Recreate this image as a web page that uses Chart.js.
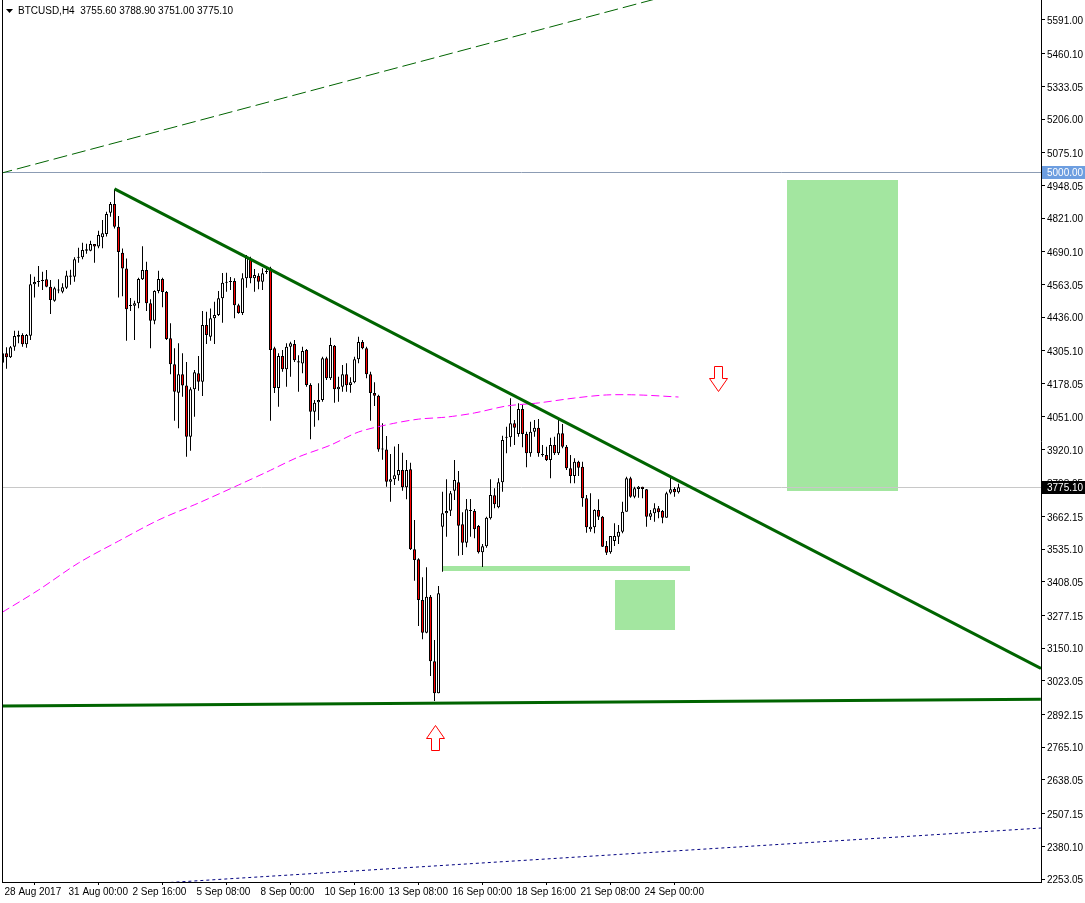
<!DOCTYPE html>
<html>
<head>
<meta charset="utf-8">
<title>BTCUSD,H4</title>
<script src="https://cdn.jsdelivr.net/npm/chart.js@4.4.1/dist/chart.umd.min.js"></script>
<style>
  html, body { margin: 0; padding: 0; background: #fff; }
  #wrap { width: 1085px; height: 903px; }
</style>
</head>
<body>
<div id="wrap"><canvas id="chart" width="1085" height="903"></canvas></div>
<script>
const symbolTitle = 'BTCUSD,H4  3755.60 3788.90 3751.00 3775.10';

// H4 candles, bar 0 = 28 Aug 2017 08:00
const opens = [
  4259.3, 4295.8, 4280.4, 4321.5, 4360.3, 4366.8, 4330.9, 4364.1, 4563.9, 4572.8,
  4576.6, 4583.3, 4554.5, 4500.2, 4541.8, 4535.2, 4550.5, 4593.4, 4593.4, 4667.3,
  4668.8, 4694.5, 4694.5, 4720.1, 4710.7, 4746.5, 4759.5, 4842.2, 4875.9, 4787.4,
  4687.0, 4625.0, 4481.5, 4480.8, 4490.1, 4583.3, 4619.4, 4490.1, 4422.5, 4537.8,
  4584.5, 4533.8, 4354.0, 4253.1, 4142.7, 4214.2, 4170.3, 3971.6, 4155.9, 4218.1,
  4185.2, 4405.7, 4360.3, 4431.8, 4444.5, 4509.5, 4570.1, 4572.8, 4576.6, 4482.2,
  4452.1, 4587.1, 4662.2, 4587.1, 4597.3, 4574.0, 4611.7, 4625.9, 4315.2, 4161.1,
  4285.4, 4233.6, 4321.5, 4331.9, 4265.2, 4256.2, 4308.6, 4172.5, 4068.8, 4105.4,
  4114.3, 4276.5, 4198.6, 4325.3, 4155.9, 4165.9, 4214.2, 4172.5, 4183.0, 4272.5,
  4339.3, 4315.2, 4214.2, 4141.7, 4131.2, 3925.8, 3921.9, 3796.9, 3806.3, 3821.8,
  3842.3, 3775.0, 3844.9, 3534.1, 3495.4, 3337.1, 3210.0, 3350.0, 3099.2, 2974.5,
  3621.9, 3674.0, 3684.1, 3761.8, 3794.5, 3631.3, 3559.8, 3686.8, 3683.0, 3624.7,
  3522.5, 3545.9, 3654.6, 3743.9, 3697.3, 3794.5, 3969.4, 3969.4, 4024.1, 3982.2,
  4079.3, 3982.2, 3907.2, 3991.1, 4007.0, 3904.5, 3900.6, 3881.1, 3939.4, 3907.2,
  3984.9, 3932.8, 3848.9, 3819.0, 3874.5, 3855.1, 3732.3, 3611.8, 3619.6, 3686.8,
  3660.8, 3547.0, 3522.5, 3566.4, 3583.1, 3602.5, 3680.2, 3810.0, 3738.5, 3768.4,
  3777.3, 3767.3, 3660.8, 3674.0, 3693.4, 3683.0, 3656.9, 3754.1, 3768.4, 3755.6
];
const highs = [
  4325.3, 4318.9, 4324.1, 4383.6, 4383.6, 4373.3, 4370.7, 4602.8, 4593.4, 4635.0,
  4612.9, 4619.4, 4580.5, 4554.5, 4583.3, 4567.8, 4616.3, 4620.2, 4668.8, 4706.1,
  4725.6, 4721.2, 4732.9, 4720.1, 4772.2, 4813.8, 4846.0, 4883.7, 4933.1, 4829.4,
  4702.6, 4664.0, 4510.7, 4500.2, 4589.5, 4711.5, 4651.5, 4505.6, 4540.4, 4616.3,
  4589.5, 4537.7, 4412.3, 4315.2, 4335.3, 4295.8, 4262.4, 4163.6, 4230.9, 4285.4,
  4460.2, 4457.5, 4470.2, 4496.3, 4537.7, 4607.5, 4609.3, 4592.2, 4587.1, 4488.7,
  4606.7, 4677.8, 4671.2, 4623.2, 4606.7, 4625.9, 4625.9, 4632.2, 4321.5, 4295.8,
  4308.6, 4335.3, 4341.0, 4347.5, 4288.5, 4321.5, 4312.4, 4179.1, 4114.3, 4179.1,
  4282.7, 4282.7, 4355.8, 4328.0, 4204.8, 4250.3, 4256.9, 4202.9, 4282.7, 4360.3,
  4347.5, 4321.5, 4224.3, 4183.0, 4135.1, 4023.9, 3974.4, 3904.5, 3933.2, 3943.7,
  3909.5, 3881.2, 3870.6, 3648.0, 3499.3, 3425.3, 3464.2, 3356.6, 3181.7, 3391.5,
  3758.0, 3806.1, 3760.7, 3881.1, 3838.4, 3677.9, 3729.6, 3729.6, 3690.7, 3628.6,
  3554.7, 3660.8, 3806.1, 3771.2, 3809.9, 3975.6, 4010.5, 4120.9, 4036.6, 4101.5,
  4094.9, 3991.1, 4030.0, 4036.6, 4040.5, 3939.4, 3932.8, 3967.8, 3971.7, 4043.2,
  4021.0, 3939.4, 3900.6, 3887.7, 3878.4, 3874.5, 3745.1, 3751.7, 3689.6, 3728.4,
  3663.5, 3566.4, 3585.8, 3635.2, 3628.6, 3719.1, 3816.2, 3816.2, 3777.3, 3780.1,
  3777.3, 3768.4, 3686.8, 3712.9, 3702.4, 3686.8, 3758.0, 3813.9, 3776.7, 3788.9
];
const lows = [
  4228.2, 4235.9, 4277.7, 4305.7, 4335.3, 4321.5, 4317.6, 4347.5, 4512.6, 4554.5,
  4541.8, 4552.1, 4448.5, 4496.3, 4529.5, 4529.5, 4545.7, 4562.1, 4573.9, 4648.0,
  4661.1, 4682.2, 4692.2, 4648.0, 4704.5, 4704.5, 4749.3, 4826.4, 4781.2, 4512.6,
  4517.7, 4344.8, 4460.2, 4347.5, 4470.6, 4580.5, 4460.2, 4315.2, 4408.6, 4529.5,
  4474.5, 4347.5, 4214.2, 4033.9, 4004.2, 4127.1, 3894.0, 3917.3, 4049.5, 4150.5,
  4129.8, 4331.9, 4344.8, 4331.9, 4440.6, 4414.6, 4535.2, 4541.8, 4431.8, 4449.7,
  4444.5, 4550.5, 4567.8, 4535.2, 4544.5, 4541.8, 4603.9, 4033.9, 4141.7, 4088.3,
  4224.3, 4165.9, 4204.8, 4262.4, 4146.6, 4218.1, 4165.9, 3961.6, 4010.2, 4036.1,
  4107.7, 4192.0, 4192.0, 4103.8, 4107.7, 4146.6, 4146.6, 4142.7, 4179.1, 4256.9,
  4311.5, 4198.6, 4033.9, 4091.0, 3913.4, 3882.5, 3777.5, 3719.1, 3783.6, 3800.4,
  3761.8, 3728.4, 3531.4, 3412.2, 3236.1, 3184.4, 3207.7, 3041.9, 2944.6, 2974.5,
  3447.1, 3583.1, 3663.5, 3725.7, 3509.3, 3512.0, 3541.9, 3583.1, 3576.9, 3517.8,
  3465.1, 3540.2, 3649.9, 3693.4, 3693.4, 3758.0, 3907.2, 3932.8, 3939.4, 3971.7,
  3930.5, 3852.8, 3894.0, 3971.7, 3894.0, 3894.0, 3877.3, 3810.0, 3900.6, 3900.6,
  3926.6, 3842.3, 3790.6, 3790.6, 3819.0, 3699.7, 3598.6, 3602.5, 3596.7, 3648.0,
  3543.1, 3512.0, 3517.0, 3547.0, 3554.7, 3596.7, 3680.2, 3734.6, 3732.3, 3734.6,
  3732.3, 3621.9, 3648.0, 3641.4, 3654.6, 3635.2, 3656.9, 3747.8, 3738.5, 3751.0
];
const closes = [
  4295.8, 4280.4, 4318.9, 4363.0, 4366.8, 4330.9, 4366.8, 4563.9, 4572.8, 4576.6,
  4580.5, 4554.5, 4502.9, 4548.3, 4539.9, 4552.1, 4598.5, 4598.5, 4661.1, 4671.2,
  4697.2, 4699.9, 4720.1, 4710.7, 4755.5, 4762.1, 4837.1, 4875.9, 4787.4, 4689.3,
  4625.0, 4466.8, 4479.6, 4490.1, 4584.5, 4619.4, 4490.1, 4422.5, 4537.8, 4584.5,
  4533.8, 4351.3, 4253.1, 4146.6, 4214.2, 4170.3, 3971.6, 4155.9, 4221.9, 4185.2,
  4405.7, 4366.8, 4431.8, 4444.5, 4509.5, 4570.1, 4571.7, 4574.8, 4482.2, 4452.1,
  4587.1, 4667.3, 4587.1, 4600.1, 4574.0, 4606.7, 4613.6, 4308.6, 4161.1, 4285.4,
  4233.6, 4321.5, 4335.3, 4269.1, 4260.1, 4305.2, 4172.5, 4068.8, 4103.8, 4114.3,
  4276.5, 4198.6, 4328.0, 4155.9, 4165.9, 4214.2, 4171.6, 4183.0, 4272.5, 4339.3,
  4315.2, 4214.2, 4141.7, 4131.2, 3921.9, 3921.9, 3796.9, 3806.3, 3821.8, 3842.3,
  3775.0, 3842.3, 3534.1, 3492.6, 3337.1, 3210.0, 3350.0, 3099.2, 2974.5, 3363.1,
  3674.0, 3683.0, 3751.7, 3803.4, 3625.8, 3559.8, 3689.6, 3683.0, 3611.8, 3522.5,
  3545.9, 3656.9, 3745.1, 3709.0, 3794.5, 3958.9, 3967.5, 4024.1, 4007.0, 4079.3,
  3982.2, 3907.2, 3991.1, 4007.0, 3907.2, 3900.6, 3881.1, 3939.4, 3907.2, 3984.9,
  3932.8, 3848.9, 3819.0, 3874.5, 3851.2, 3732.3, 3619.6, 3621.9, 3686.8, 3660.8,
  3544.3, 3521.0, 3585.8, 3585.8, 3602.5, 3680.2, 3810.0, 3738.5, 3771.2, 3777.3,
  3768.4, 3660.8, 3674.0, 3693.4, 3677.9, 3656.9, 3751.7, 3767.3, 3755.5, 3775.1
];

// moving average (magenta), read at selected bars
const maBars = [0, 9, 19, 29, 39, 49, 59, 66, 74, 82, 89, 97, 104, 111, 118, 126, 134, 143, 151, 159, 169];
const maVals = [3290, 3376, 3481, 3566, 3648, 3714, 3784, 3834, 3893, 3939, 3990, 4021, 4040, 4048, 4064, 4091, 4103, 4122, 4134, 4134, 4126];

// drawn objects: [bar, price]
const trendDown = [[28, 4935], [259.6, 3071]];
const supportLine = [[-1, 2925], [259.6, 2952]];
const channelTop = [[-1, 4993], [166, 5684]];
const channelBottom = [[30, 2228], [259.6, 2451]];
const levelLine = 5000.00;
const bidPrice = 3775.10;

// rectangles: [barFrom, barTo, priceTop, priceBottom]
const targetBox = [196.1, 223.9, 4969, 3761];
const smallBox = [153.1, 168.1, 3415, 3220];
const baseBar = [110.1, 171.9, 3469, 3450];

// arrows: [bar, price of top edge]
const arrowDown = [178.9, 4246];
const arrowUp = [108.1, 2851];

const priceTicks = [5591.00, 5460.10, 5333.05, 5206.00, 5075.10, 4948.05, 4821.00, 4690.10, 4563.05,
  4436.00, 4305.10, 4178.05, 4051.00, 3920.10, 3793.05, 3662.15, 3535.10, 3408.05, 3277.15,
  3150.10, 3023.05, 2892.15, 2765.10, 2638.05, 2507.15, 2380.10, 2253.05];
const dateTickBars = [0, 16, 32, 48, 64, 80, 96, 112, 128, 144, 160];
const dateTickText = ['28 Aug 2017', '31 Aug 00:00', '2 Sep 16:00', '5 Sep 08:00', '8 Sep 00:00',
  '10 Sep 16:00', '13 Sep 08:00', '16 Sep 00:00', '18 Sep 16:00', '21 Sep 08:00', '24 Sep 00:00'];

const FONT = { family: '"Liberation Sans", Arial, sans-serif', size: 10 };
const GREEN_BOX = '#a3e6a0';
const toXY = pts => pts.map(p => ({ x: p[0], y: p[1] }));

const bars = opens.map((o, i) => i);
const wickData = bars.map(i => ({ x: i, y: [lows[i], highs[i]] }));
const bodyData = bars.map(i => ({ x: i, y: [opens[i], closes[i]] }));
const bodyColors = bars.map(i => (closes[i] >= opens[i] ? '#ffffff' : '#ff0000'));

const mtPlugin = {
  id: 'mtObjects',
  beforeDatasetsDraw(chart) {
    const { ctx, chartArea: a, scales: { x, y } } = chart;
    ctx.save();
    ctx.beginPath();
    ctx.rect(a.left, a.top, a.right - a.left, a.bottom - a.top);
    ctx.clip();
    ctx.fillStyle = GREEN_BOX;
    [targetBox, smallBox, baseBar].forEach(b => {
      const x1 = Math.round(x.getPixelForValue(b[0]));
      const x2 = Math.round(x.getPixelForValue(b[1]));
      const y1 = Math.round(y.getPixelForValue(b[2]));
      const y2 = Math.round(y.getPixelForValue(b[3]));
      ctx.fillRect(x1, y1, x2 - x1, y2 - y1);
    });
    ctx.lineWidth = 1;
    const ly = Math.round(y.getPixelForValue(levelLine)) + 0.5;
    ctx.strokeStyle = '#8c9cb4';
    ctx.beginPath(); ctx.moveTo(a.left, ly); ctx.lineTo(a.right, ly); ctx.stroke();
    const by = Math.round(y.getPixelForValue(bidPrice)) + 0.5;
    ctx.strokeStyle = '#c8c8c8';
    ctx.beginPath(); ctx.moveTo(a.left, by); ctx.lineTo(a.right, by); ctx.stroke();
    ctx.restore();
  },
  afterDatasetsDraw(chart) {
    const { ctx, scales: { x, y } } = chart;
    ctx.save();
    ctx.strokeStyle = '#ff0000';
    ctx.fillStyle = '#ffffff';
    ctx.lineWidth = 1;
    // down arrow
    let cx = Math.round(x.getPixelForValue(arrowDown[0])) + 0.5;
    let ty = Math.round(y.getPixelForValue(arrowDown[1])) + 0.5;
    ctx.beginPath();
    ctx.moveTo(cx - 4, ty); ctx.lineTo(cx + 4, ty); ctx.lineTo(cx + 4, ty + 12);
    ctx.lineTo(cx + 9, ty + 12); ctx.lineTo(cx, ty + 25); ctx.lineTo(cx - 9, ty + 12);
    ctx.lineTo(cx - 4, ty + 12); ctx.closePath();
    ctx.fill(); ctx.stroke();
    // up arrow
    cx = Math.round(x.getPixelForValue(arrowUp[0])) + 0.5;
    ty = Math.round(y.getPixelForValue(arrowUp[1])) + 0.5;
    ctx.beginPath();
    ctx.moveTo(cx, ty); ctx.lineTo(cx + 9, ty + 13); ctx.lineTo(cx + 4, ty + 13);
    ctx.lineTo(cx + 4, ty + 25); ctx.lineTo(cx - 4, ty + 25); ctx.lineTo(cx - 4, ty + 13);
    ctx.lineTo(cx - 9, ty + 13); ctx.closePath();
    ctx.fill(); ctx.stroke();
    ctx.restore();
  },
  afterDraw(chart) {
    const { ctx, chartArea: a, scales: { y } } = chart;
    ctx.save();
    // frame on the left
    ctx.strokeStyle = '#000';
    ctx.lineWidth = 1;
    ctx.beginPath(); ctx.moveTo(a.left + 0.5, a.top); ctx.lineTo(a.left + 0.5, a.bottom); ctx.stroke();
    // title
    ctx.fillStyle = '#000';
    ctx.beginPath(); ctx.moveTo(6, 9); ctx.lineTo(13, 9); ctx.lineTo(9.5, 13); ctx.closePath(); ctx.fill();
    ctx.font = `${FONT.size}px ${FONT.family}`;
    ctx.textBaseline = 'middle';
    ctx.textAlign = 'left';
    ctx.fillText(symbolTitle, 18, 11);
    // price tags on the axis
    const tag = (val, bg) => {
      const py = Math.round(y.getPixelForValue(val));
      ctx.fillStyle = bg;
      ctx.fillRect(y.left + 1, py - 6, 43, 13);
      ctx.fillStyle = '#ffffff';
      ctx.fillText(val.toFixed(2), y.left + 6, py + 1);
    };
    tag(levelLine, '#6d9ee0');
    tag(bidPrice, '#000000');
    ctx.restore();
  }
};

new Chart(document.getElementById('chart'), {
  type: 'bar',
  data: {
    datasets: [
      { type: 'line', data: toXY(trendDown), borderColor: '#006400', borderWidth: 3, pointRadius: 0, order: 0 },
      { type: 'line', data: toXY(supportLine), borderColor: '#006400', borderWidth: 3, pointRadius: 0, order: 0 },
      { type: 'line', data: toXY(channelTop), borderColor: '#006400', borderWidth: 1, borderDash: [14, 5], pointRadius: 0, order: 0 },
      { type: 'line', data: toXY(channelBottom), borderColor: '#000080', borderWidth: 1, borderDash: [3, 3], pointRadius: 0, order: 0 },
      { type: 'line', data: maBars.map((b, i) => ({ x: b, y: maVals[i] })), borderColor: '#ff00ff', borderWidth: 1,
        borderDash: [8, 4], pointRadius: 0, tension: 0.3, order: 0 },
      { type: 'bar', data: bodyData, backgroundColor: bodyColors, borderColor: '#000', borderWidth: 1,
        borderSkipped: false, barThickness: 3, minBarLength: 1, grouped: false, inflateAmount: 0, order: 1 },
      { type: 'bar', data: wickData, backgroundColor: '#000', borderWidth: 0,
        barThickness: 1, grouped: false, inflateAmount: 0, order: 2 }
    ]
  },
  options: {
    responsive: false,
    animation: false,
    events: [],
    layout: { padding: { left: 2, top: 0, right: 0, bottom: 0 } },
    plugins: { legend: { display: false }, tooltip: { enabled: false } },
    scales: {
      x: {
        type: 'linear',
        min: -0.125,
        max: 259.625,
        offset: false,
        grid: { drawOnChartArea: false, drawTicks: true, tickLength: 3, color: '#000' },
        border: { display: true, color: '#000' },
        ticks: {
          autoSkip: false, maxRotation: 0, align: 'start', padding: 1, labelOffset: 2, color: '#000', font: FONT,
          callback: v => dateTickText[dateTickBars.indexOf(v)]
        },
        afterBuildTicks: s => { s.ticks = dateTickBars.map(v => ({ value: v })); },
        afterFit: s => { s.height = 21; s.paddingLeft = 0; s.paddingRight = 0; }
      },
      y: {
        type: 'linear',
        position: 'right',
        min: 2241.4,
        max: 5668.7,
        grid: { drawOnChartArea: false, drawTicks: true, tickLength: 4, color: '#000' },
        border: { display: true, color: '#000' },
        ticks: { padding: 2, labelOffset: 1.5, color: '#000', font: FONT, callback: v => v.toFixed(2) },
        afterBuildTicks: s => { s.ticks = priceTicks.map(v => ({ value: v })); },
        afterFit: s => { s.width = 44; s.paddingTop = 0; s.paddingBottom = 0; }
      }
    }
  },
  plugins: [mtPlugin]
});
</script>
</body>
</html>
